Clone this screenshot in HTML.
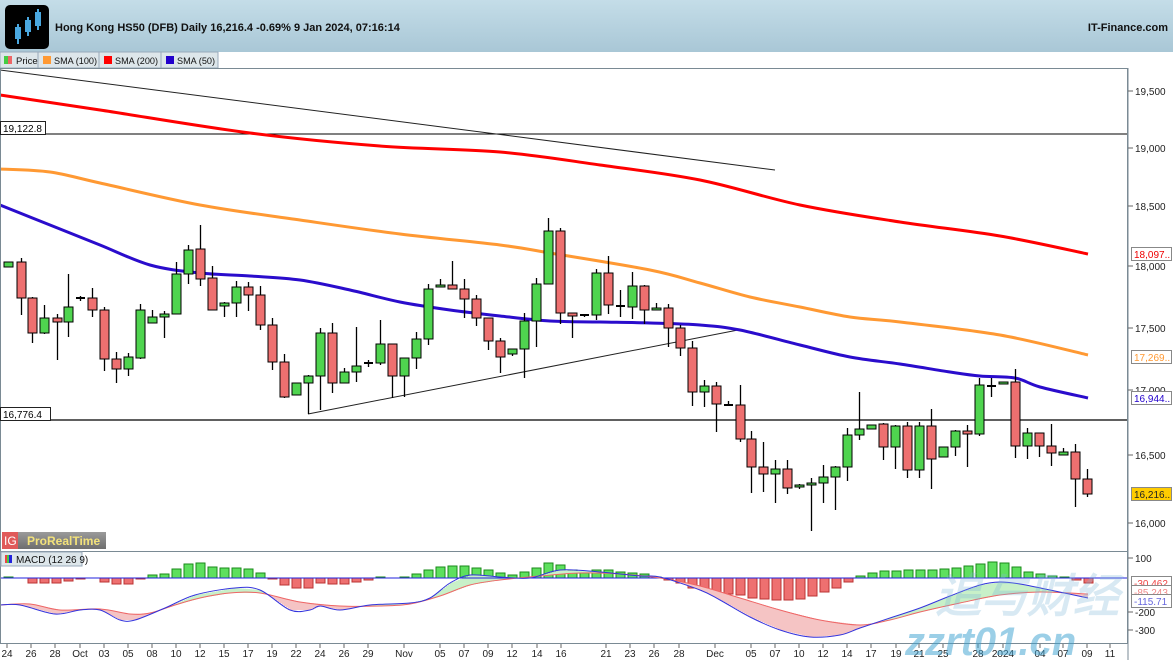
<!DOCTYPE html>
<html><head><meta charset="utf-8"><style>
body{margin:0;width:1173px;height:660px;overflow:hidden;background:#fff;font-family:"Liberation Sans",sans-serif;}
svg text{font-family:"Liberation Sans",sans-serif;}
</style></head><body>
<svg id="s" width="1173" height="660" xmlns="http://www.w3.org/2000/svg">
<defs>
<linearGradient id="hdr" x1="0" y1="0" x2="0" y2="1"><stop offset="0" stop-color="#c4dde8"/><stop offset="1" stop-color="#a9c7d6"/></linearGradient>
<linearGradient id="prt" x1="0" y1="0" x2="0" y2="1"><stop offset="0" stop-color="#9a9a9a"/><stop offset="1" stop-color="#6e6e6e"/></linearGradient>
</defs>
<rect x="0" y="0" width="1173" height="52" fill="url(#hdr)"/>
<rect x="5" y="5" width="44" height="44" rx="5" fill="#000"/>
<g stroke="#4aa8e0" stroke-width="2" fill="none">
<line x1="18" y1="24" x2="18" y2="44"/><rect x="16" y="28" width="4" height="10" fill="#4aa8e0"/>
<line x1="28" y1="17" x2="28" y2="36"/><rect x="26" y="21" width="4" height="10"/>
<line x1="38" y1="9" x2="38" y2="30"/><rect x="36" y="13" width="4" height="12"/>
</g>
<text x="55" y="31" font-size="11" font-weight="bold" fill="#111">Hong Kong HS50 (DFB) Daily 16,216.4 -0.69% 9 Jan 2024, 07:16:14</text>
<text x="1168" y="31" font-size="11" font-weight="bold" fill="#111" text-anchor="end">IT-Finance.com</text>
<rect x="0" y="52" width="1173" height="16" fill="#fff"/>
<g font-size="9.5" fill="#111">
<rect x="0" y="52" width="38" height="16" fill="#dde6ea" stroke="#9ab"/>
<rect x="4" y="56" width="4" height="8" fill="#4c4"/><rect x="8" y="56" width="4" height="8" fill="#e66"/><text x="16" y="64">Price</text>
<rect x="38" y="52" width="61" height="16" fill="#dde6ea" stroke="#9ab"/>
<rect x="43" y="56" width="8" height="8" fill="#f93"/><text x="54" y="64" textLength="43" lengthAdjust="spacingAndGlyphs">SMA (100)</text>
<rect x="99" y="52" width="62" height="16" fill="#dde6ea" stroke="#9ab"/>
<rect x="104" y="56" width="8" height="8" fill="#f00"/><text x="115" y="64" textLength="43" lengthAdjust="spacingAndGlyphs">SMA (200)</text>
<rect x="161" y="52" width="57" height="16" fill="#dde6ea" stroke="#9ab"/>
<rect x="166" y="56" width="8" height="8" fill="#20c"/><text x="177" y="64" textLength="38" lengthAdjust="spacingAndGlyphs">SMA (50)</text>
</g>
<g id="main"></g>
<rect x="0.5" y="68.5" width="1127" height="483" fill="none" stroke="#7a8a94"/>
<rect x="0.5" y="551.5" width="1127" height="92" fill="none" stroke="#7a8a94"/>
<line x1="1128" y1="68" x2="1128" y2="660" stroke="#7a8a94"/>
<line x1="0" y1="643.5" x2="1128" y2="643.5" stroke="#7a8a94"/>
<g id="ax" font-size="10" fill="#222"></g>
<rect x="2" y="532" width="16" height="17" fill="#e05a5a"/><text x="4" y="545" font-size="12" fill="#fff">IG</text>
<rect x="18" y="532" width="88" height="17" fill="url(#prt)"/><text x="27" y="545" font-size="12" font-weight="bold" fill="#f3e27a">ProRealTime</text>
<rect x="1" y="552" width="81" height="14" fill="#dde6ea" stroke="#9ab"/>
<rect x="5" y="555" width="2" height="8" fill="#e44"/><rect x="7" y="555" width="2" height="8" fill="#4c4"/><rect x="9" y="555" width="3" height="8" fill="#22d"/>
<text x="16" y="563" font-size="10" fill="#111">MACD (12 26 9)</text>
<rect x="0.5" y="121.5" width="45" height="13" fill="#fff" stroke="#222"/><text x="3" y="132" font-size="10">19,122.8</text>
<rect x="0.5" y="407.5" width="50" height="13" fill="#fff" stroke="#222"/><text x="3" y="418" font-size="10">16,776.4</text>
<text x="935" y="612" font-size="46" font-style="italic" font-weight="bold" fill="#7fb8d8" opacity="0.3">追与财经</text>
<text x="905" y="655" font-size="40" font-style="italic" font-weight="bold" fill="#3aa0d0" opacity="0.5">zzrt01.cn</text>
</svg>
<script>
var NS="http://www.w3.org/2000/svg",main=document.getElementById('main'),ax=document.getElementById('ax');
function el(t,a,p){var e=document.createElementNS(NS,t);for(var k in a)e.setAttribute(k,a[k]);(p||main).appendChild(e);return e;}
function pl(pts,c,w){var d='M'+pts[0][0]+','+pts[0][1];
for(var i=0;i<pts.length-1;i++){var p0=pts[i-1]||pts[i],p1=pts[i],p2=pts[i+1],p3=pts[i+2]||p2;
d+=' C'+(p1[0]+(p2[0]-p0[0])/6)+','+(p1[1]+(p2[1]-p0[1])/6)+' '+(p2[0]-(p3[0]-p1[0])/6)+','+(p2[1]-(p3[1]-p1[1])/6)+' '+p2[0]+','+p2[1];}
el('path',{d:d,fill:'none',stroke:c,'stroke-width':w,'stroke-linejoin':'round'});}
el('line',{x1:0,y1:134,x2:1128,y2:134,stroke:'#000','stroke-width':1});
el('line',{x1:0,y1:420,x2:1128,y2:420,stroke:'#000','stroke-width':1.2});
el('line',{x1:0,y1:70,x2:775,y2:170,stroke:'#222','stroke-width':1});
el('line',{x1:308,y1:414,x2:738,y2:330,stroke:'#222','stroke-width':1});
pl([[0,95],[100,110],[250,133],[380,146],[500,152],[600,165],[700,180],[800,205],[900,222],[1000,236],[1088,254]],'#f00',3);
pl([[0,169],[50,172],[100,183],[200,205],[300,220],[400,234],[500,245],[550,253],[650,270],[700,283],[750,297],[800,307],[850,317],[900,322],[1000,335],[1088,355]],'#f93',3);
pl([[0,205],[50,225],[100,245],[150,265],[200,273],[250,276],[300,280],[350,290],[400,302],[450,310],[500,316],[550,321],[600,322],[650,323],[700,325],[740,330],[800,345],[850,357],[900,364],[950,372],[980,376],[1015,378],[1040,387],[1088,398]],'#2a0ccc',3);
var C=[[8,267,262,262,267],[21,262,298,258,315],[32,298,333,297,343],[44,333,318,305,334],[57,318,322,314,360],[68,322,307,274,337],[80,298,298,296,301],[92,298,310,288,317],[104,310,359,307,371],[116,359,369,352,383],[128,369,357,353,376],[140,358,310,304,359],[152,323,317,310,323],[164,317,314,311,338],[176,314,274,262,314],[188,274,250,245,284],[200,249,279,225,286],[212,278,310,266,310],[224,306,303,302,317],[236,303,287,281,317],[248,287,295,282,311],[260,295,325,286,330],[272,325,362,318,370],[284,362,397,354,398],[296,395,383,383,395],[308,383,376,375,414],[320,376,333,328,410],[332,333,383,323,393],[344,383,372,368,382],[356,372,366,327,382],[368,363,363,360,367],[380,363,344,320,365],
[392,344,376,344,398],[404,376,358,358,397],[416,358,339,332,369],[428,339,289,284,345],[440,287,285,279,287],[452,285,289,261,289],[464,289,299,279,318],[476,299,318,295,326],[488,318,341,318,350],[500,341,357,338,373],[512,354,349,349,356],[524,349,321,313,378],[536,321,284,278,347],[548,284,231,218,284],[560,231,313,228,324],[572,313,316,313,338],[584,315,315,315,317],[596,315,273,269,320],[608,273,305,256,314],[620,306,306,290,317],[632,307,286,272,319],[644,286,310,285,324],[656,310,308,303,310],[668,308,328,304,347],[680,328,348,325,356],[692,348,392,341,406],
[704,392,386,380,407],[716,386,404,382,432],[728,405,405,401,405],[740,405,439,385,442],[751,439,467,431,493],[763,467,474,442,492],[775,474,469,460,503],[787,469,488,460,494],[799,487,485,484,489],[811,485,483,478,531],[823,483,477,465,503],[835,477,467,466,510],[847,467,435,428,481],[859,435,429,392,440],[871,429,425,425,429],[883,424,447,423,460],[895,447,426,425,469],[907,426,470,422,478],[919,470,426,422,478],[931,426,459,409,489],[943,457,447,447,457],[955,447,431,430,456],[967,431,434,425,467],[979,434,385,378,436],[991,386,386,378,397],[1003,384,382,382,384],[1015,382,446,369,458],[1027,446,433,428,459],[1039,433,446,433,457],[1051,446,453,424,466],[1063,455,452,448,455],[1075,452,479,444,507],[1087,479,494,469,497]];
C.forEach(function(c){var x=c[0],o=c[1],cl=c[2];
el('line',{x1:x+.5,y1:c[3],x2:x+.5,y2:c[4],stroke:'#000','stroke-width':1.3});
var t=Math.min(o,cl),h=Math.abs(o-cl);
if(h<2){el('rect',{x:x-4,y:t-1,width:9,height:2,fill:'#000'});}
else el('rect',{x:x-4,y:t,width:9,height:h,fill:cl<o?'#4fd44f':'#ee7070',stroke:'#000','stroke-width':1});
});
var H=[[8,577],[32,583],[44,583],[56,583],[68,581],[80,579],[104,582],[116,584],[128,584],[140,579],[152,575],[164,574],[176,569],[188,564],[200,563],[212,567],[224,568],[236,568],[248,569],[260,573],[272,579],[284,585],[296,588],[308,588],[320,583],[332,584],[344,584],[356,582],[368,580],[380,577],[404,577],[416,574],[428,570],[440,567],[452,566],[464,566],[476,568],[488,570],[500,573],[512,575],[524,572],[536,568],[548,563],[560,565],[572,570],[584,573],[596,570],[608,570],[620,572],[632,573],[644,574],[656,577],[668,580],[680,583],[692,588],[704,590],[716,592],[728,594],[740,595],[752,598],[764,599],[776,600],[788,600],[800,599],[812,596],[824,592],[836,588],[848,582],[860,576],[872,573],[884,571],[896,571],[908,570],[920,570],[932,570],[944,569],[956,568],[968,566],[980,564],[992,562],[1004,563],[1016,567],[1028,572],[1040,574],[1052,576],[1064,577],[1076,580],[1088,583]];
var Z=578;
H.forEach(function(h){var up=h[1]<Z;el('rect',{x:h[0]-4,y:Math.min(h[1],Z),width:9,height:Math.max(1,Math.abs(h[1]-Z)),fill:up?'#5ee05e':'#ee7070',stroke:up?'#1a8a1a':'#b33','stroke-width':1});});
var B=[[0,605],[20,605],[55,614],[80,610],[100,610],[120,620],[135,620],[165,608],[195,595],[235,588],[260,590],[290,610],[310,610],[320,606],[340,610],[370,605],[410,603],[430,598],[450,583],[470,575],[500,577],[530,578],[560,570],[600,572],[640,576],[660,577],[700,590],[720,600],[750,617],[780,630],[810,637],[840,635],[860,628],[890,618],[920,608],[950,596],[980,585],[1000,582],[1020,584],[1050,590],[1088,598]];
var R=[[0,605],[30,604],[60,610],[100,609],[130,614],[150,613],[175,605],[200,598],[230,593],[260,593],[300,602],[340,606],[380,606],[410,604],[440,596],[470,585],[500,580],[540,576],[580,573],[620,574],[660,578],[700,586],[740,598],[780,610],[820,620],[860,625],[890,620],[920,612],[960,603],[1000,595],[1040,592],[1088,594]];
function interp(a,x){for(var i=0;i<a.length-1;i++){if(x>=a[i][0]&&x<=a[i+1][0]){var t=(x-a[i][0])/(a[i+1][0]-a[i][0]);return a[i][1]+t*(a[i+1][1]-a[i][1]);}}return a[a.length-1][1];}
for(var x=0;x<1088;x+=2){var b=interp(B,x),r=interp(R,x);el('rect',{x:x,y:Math.min(b,r),width:2,height:Math.abs(b-r),fill:b<r?'#c8f0c8':'#f5c4c4'});}
el('line',{x1:0,y1:Z,x2:1128,y2:Z,stroke:'#22d','stroke-width':1});
pl(R,'#e66',1);pl(B,'#33d',1);
[[91,'19,500'],[148,'19,000'],[206,'18,500'],[266,'18,000'],[328,'17,500'],[390,'17,000'],[455,'16,500'],[523,'16,000'],[558,'100'],[612,'-200'],[630,'-300']].forEach(function(l){
el('line',{x1:1128,y1:l[0],x2:1133,y2:l[0],stroke:'#666'},ax);var t=el('text',{x:1135,y:l[0]+4},ax);t.textContent=l[1];});
function box(y,txt,col,bg){el('rect',{x:1131.5,y:y-6.5,width:40,height:13,fill:bg,stroke:'#888'},ax);var t=el('text',{x:1134,y:y+4,fill:col},ax);t.textContent=txt;}
box(254,'18,097..','#e00','#fff');box(357,'17,269..','#f93','#fff');box(398,'16,944..','#20c','#fff');box(494,'16,216..','#222','#ffcc00');
box(583,'-30.462','#e44','#fff');box(592,'-85.243','#e88','#fff');box(601,'-115.71','#66d','#fff');
[[7,'24'],[31,'26'],[55,'28'],[80,'Oct'],[104,'03'],[128,'05'],[152,'08'],[176,'10'],[200,'12'],[224,'15'],[248,'17'],[272,'19'],[296,'22'],[320,'24'],[344,'26'],[368,'29'],[404,'Nov'],[440,'05'],[464,'07'],[488,'09'],[512,'12'],[537,'14'],[561,'16'],[606,'21'],[630,'23'],[654,'26'],[679,'28'],[715,'Dec'],[751,'05'],[775,'07'],[799,'10'],[823,'12'],[847,'14'],[871,'17'],[896,'19'],[919,'21'],[943,'25'],[978,'28'],[1003,'2024'],[1040,'04'],[1063,'07'],[1087,'09'],[1110,'11']].forEach(function(l){
el('line',{x1:l[0],y1:644,x2:l[0],y2:648,stroke:'#666'},ax);var t=el('text',{x:l[0],y:657,'text-anchor':'middle'},ax);t.textContent=l[1];});
</script>
</body></html>
